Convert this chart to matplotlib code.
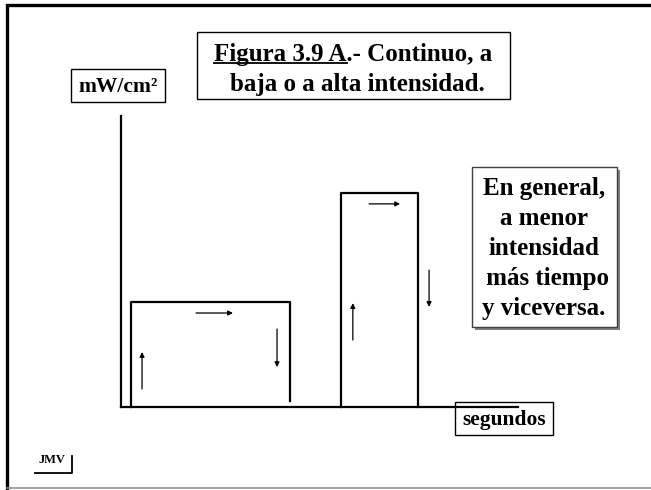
import matplotlib
matplotlib.use('Agg')
import matplotlib.pyplot as plt
from matplotlib.patches import Rectangle

plt.rcParams['font.family'] = ['Liberation Serif', 'DejaVu Serif']
plt.rcParams['font.weight'] = 'bold'

# chart units: time axis 0..100, intensity axis 0..100
bar_left = [2.6, 55.5]
bar_right = [42.6, 74.8]
bar_height = [36.0, 73.5]
bar_foot = [2.0, 0.0]          # where the falling edge stops

# arrows as (x0, y0, x1, y1)
arrows = [
    (5.3, 6.2, 5.3, 18.9),      # low bar: up
    (18.9, 32.3, 28.2, 32.3),   # low bar: right
    (39.3, 26.8, 39.3, 13.7),   # low bar: down
    (58.4, 23.0, 58.4, 35.7),   # high bar: up
    (62.5, 69.8, 70.3, 69.8),   # high bar: right
    (77.6, 47.0, 77.6, 34.4),   # high bar: down
]

title_lines = ['Figura 3.9 A.- Continuo, a', 'baja o a alta intensidad.']
title_underlined = 'Figura 3.9 A'
note_lines = ['En general,', 'a menor', 'intensidad', ' más tiempo', 'y viceversa.']
y_label = 'mW/cm²'
x_label = 'segundos'
author = 'JMV'

fig = plt.figure(figsize=(6.51, 4.90), dpi=100)

# page layer in pixel units
bg = fig.add_axes([0, 0, 1, 1])
bg.set_xlim(0, 651)
bg.set_ylim(490, 0)
bg.axis('off')

# slide frame
bg.plot([7, 7, 651], [490, 5, 5], color='black', lw=2.4, solid_joinstyle='miter')
bg.plot([7, 651], [488, 488], color='#909090', lw=1.2)

# title box
bg.add_patch(Rectangle((197, 32), 313, 67, fill=False, ec='black', lw=1))
t1 = bg.text(353.5, 54, title_lines[0], ha='center', va='center', fontsize=18)
bg.text(357, 84, title_lines[1], ha='center', va='center', fontsize=18)
fig.canvas.draw()
r = fig.canvas.get_renderer()
ext = t1.get_window_extent(r)
tmp = bg.text(0, 0, title_underlined, fontsize=18)
w = tmp.get_window_extent(r).width
tmp.remove()
bg.plot([ext.x0, ext.x0 + w], [63, 63], color='black', lw=1.3)

# y label box
bg.add_patch(Rectangle((71, 69), 94, 33, fill=False, ec='black', lw=1))
bg.text(118, 87, y_label, ha='center', va='center', fontsize=15.5)

# note box with shadow
bg.add_patch(Rectangle((475, 170), 145, 160, fc='#7f7f7f', ec='none'))
bg.add_patch(Rectangle((472, 167), 145, 160, fc='white', ec='#404040', lw=1))
for i, line in enumerate(note_lines):
    bg.text(544, 188 + 30 * i, line, ha='center', va='center', fontsize=18)

# x label box
bg.add_patch(Rectangle((455, 402), 98, 33, fill=False, ec='black', lw=1))
bg.text(504, 420, x_label, ha='center', va='center', fontsize=15.5)

# author mark
bg.text(52, 460, author, ha='center', va='center', fontsize=9)
bg.plot([35, 72, 72], [473, 473, 456], color='black', lw=1.3)

# chart
ax = fig.add_axes([121 / 651, 83 / 490, 397 / 651, 291 / 490])
ax.set_xlim(0, 100)
ax.set_ylim(0, 100)
ax.patch.set_alpha(0)
for s in ['top', 'right']:
    ax.spines[s].set_visible(False)
for s in ['left', 'bottom']:
    ax.spines[s].set_linewidth(1.6)
ax.set_xticks([])
ax.set_yticks([])

for l, rr, h, f in zip(bar_left, bar_right, bar_height, bar_foot):
    ax.plot([l, l, rr, rr], [0, h, h, f], color='black', lw=1.6, clip_on=False)

for x0, y0, x1, y1 in arrows:
    ax.annotate('', xy=(x1, y1), xytext=(x0, y0),
                arrowprops=dict(arrowstyle='-|>', color='black', lw=0.9,
                                mutation_scale=7, shrinkA=0, shrinkB=0))

fig.savefig('out.png', dpi=100)
